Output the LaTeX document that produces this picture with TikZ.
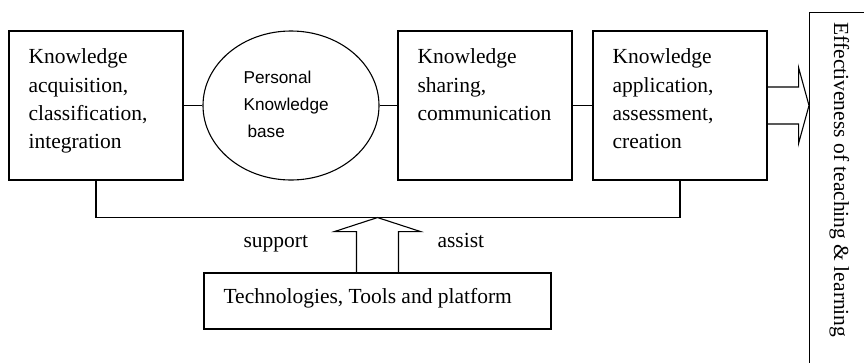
\documentclass[tikz,border=0pt]{standalone}
\usepackage{fontspec}
\setmainfont{Liberation Serif}
\newfontfamily\arialf{Liberation Sans}
\usetikzlibrary{calc,shapes.geometric}
\begin{document}
\begin{tikzpicture}[x=1pt,y=-1pt,line width=1.1pt,
  box/.style={draw, rectangle, minimum width=174pt, minimum height=149pt, inner sep=0pt},
  txt/.style={inner sep=0pt, align=left, font=\fontsize{21.5}{28.3}\selectfont},
  stxt/.style={inner sep=0pt, align=left, font=\arialf\fontsize{17.2}{27}\selectfont}]
\useasboundingbox (0,0) rectangle (864,362);
\clip (0,0) rectangle (864,362);
% boxes
\node[box] (b1) at (96,105.5) {};
\node[draw, ellipse, minimum width=176pt, minimum height=149pt, inner sep=0pt] (pkb) at (291,105.5) {};
\node[box] (b2) at (485,105.5) {};
\node[box] (b3) at (680,105.5) {};
\node[draw, rectangle, minimum width=347pt, minimum height=56pt, inner sep=0pt] (tech) at (377.5,301) {};
\node[draw, rectangle, anchor=north west, minimum width=100pt, minimum height=400pt, inner sep=0pt] (eff) at (809,12) {};
% texts
\node[txt, anchor=north west] at (28,48.3) {Knowledge\\acquisition,\\classification,\\integration};
\node[stxt, anchor=north west] at (243,70.5) {Personal\\Knowledge\\\hspace*{4pt}base};
\node[txt, anchor=north west] at (417,48.3) {Knowledge\\sharing,\\communication};
\node[txt, anchor=north west] at (612,48.3) {Knowledge\\application,\\assessment,\\creation};
\node[txt, anchor=base west] at (223,303) {Technologies, Tools and platform};
\node[txt, anchor=base west] at (243,247) {support};
\node[txt, anchor=base west] at (437,247) {assist};
\node[txt, rotate=-90, anchor=base west] at (834,22) {Effectiveness of teaching \& learning};
% connectors
\draw (b1.east) -- (pkb.west);
\draw (pkb.east) -- (b2.west);
\draw (b2.east) -- (b3.west);
\draw (b1.south) -- ++(0,37) coordinate (busl) -| (b3.south);
\coordinate (uptip) at (tech.north |- busl);
\draw ($(tech.north)+(-21,0)$) |- ($(uptip)+(-43,14)$) -- (uptip) -- ($(uptip)+(43,14)$) -| ($(tech.north)+(21,0)$);
\coordinate (rtip) at (eff.west |- b3.east);
\draw ($(b3.east)+(0,-18.5)$) -- ++(31,0) -- ++(0,-19.5) -- (rtip) -- ($(b3.east)+(31,38)$) -- ++(0,-19.5) -- ($(b3.east)+(0,18.5)$);
\end{tikzpicture}
\end{document}
